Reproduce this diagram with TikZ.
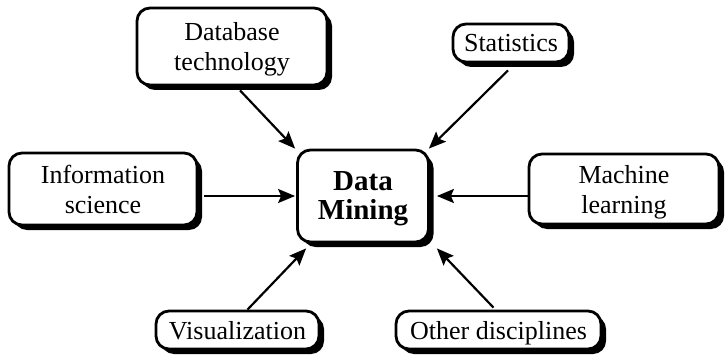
\documentclass[tikz,border=0pt]{standalone}
\usepackage{fontspec}
\setmainfont{Liberation Serif}
\usetikzlibrary{shadows,arrows.meta,calc}
\begin{document}
\begin{tikzpicture}[x=1pt,y=-1pt,
  boxstyle/.style={draw=black, line width=2.8pt, rounded corners=13pt, fill=white,
    align=center, inner sep=0pt, text depth=0pt,
    font=\fontsize{26}{30}\selectfont,
    drop shadow={shadow xshift=5pt, shadow yshift=-5pt, fill=black, opacity=1}},
  arr/.style={line width=2.2pt, -{Stealth[length=17pt,width=14pt,inset=3pt]}}]
\useasboundingbox (0,0) rectangle (727,355);
\node[boxstyle, minimum width=190pt, minimum height=77pt] (db) at (232,46.5) {Database\\technology};
\node[boxstyle, minimum width=116pt, minimum height=38pt] (stat) at (511,43) {Statistics};
\node[boxstyle, minimum width=188pt, minimum height=72pt] (info) at (103,189) {Information\\science};
\node[boxstyle, minimum width=131pt, minimum height=92pt, font=\fontsize{29}{29}\selectfont\bfseries] (dm) at (363,196) {Data\\Mining};
\node[boxstyle, minimum width=190pt, minimum height=70pt] (ml) at (624,189) {Machine\\learning};
\node[boxstyle, minimum width=163pt, minimum height=38pt] (vis) at (237.5,330) {Visualization};
\node[boxstyle, minimum width=205pt, minimum height=38pt] (oth) at (498.5,330) {Other disciplines};
\draw[arr] ($(db.south)+(8,4)$) -- ($(dm.north west)+(-1,0)$);
\draw[arr] ($(stat.south)+(-3,7)$) -- ($(dm.north east)+(-1,0)$);
\draw[arr] ($(info.east |- dm.west)+(6,0)$) -- ($(dm.west)+(-1,0)$);
\draw[arr] (ml.west |- dm.east) -- ($(dm.east)+(7,0)$);
\draw[arr] ($(vis.north)+(10,0)$) -- ($(dm.south west)+(10,5)$);
\draw[arr] ($(oth.north)+(-5,-2)$) -- ($(dm.south east)+(7,5)$);
\end{tikzpicture}
\end{document}
